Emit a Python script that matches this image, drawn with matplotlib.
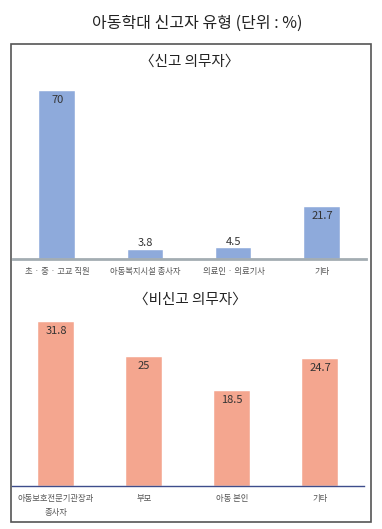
import matplotlib
matplotlib.use("Agg")
import matplotlib.pyplot as plt
from matplotlib.patches import Rectangle

plt.rcParams['font.family'] = ['Noto Sans CJK KR', 'DejaVu Sans']

# data
title = "아동학대 신고자 유형 (단위 : %)"
top_title = "〈신고 의무자〉"
top_labels = ["초 · 중 · 고교 직원", "아동복지시설 종사자", "의료인 · 의료기사", "기타"]
top_values = [70, 3.8, 4.5, 21.7]
bot_title = "〈비신고 의무자〉"
bot_labels = ["아동보호전문기관장과\n종사자", "부모", "아동 본인", "기타"]
bot_values = [31.8, 25, 18.5, 24.7]

W, H = 382, 529
fig = plt.figure(figsize=(W / 100, H / 100), dpi=100)


def box(x0, y0, x1, y1):
    # pixel coords (top-left origin) -> figure fraction
    return [x0 / W, 1 - y1 / H, (x1 - x0) / W, (y1 - y0) / H]


fig.text(197 / W, 1 - 23 / H, title, ha="center", va="center", fontsize=11.5, color="#222222")
fig.patches.append(Rectangle((11 / W, 1 - 522 / H), 360 / W, 478 / H, transform=fig.transFigure,
                             fill=False, edgecolor="#555555", lw=1.2))


def panel(rect, labels, values, color, ylim, line_color, line_w, sub, sub_y):
    ax = fig.add_axes(rect)
    xs = range(len(values))
    bars = ax.bar(xs, values, width=0.4, color=color, edgecolor="white", lw=0.3)
    for b, v in zip(bars, values):
        # short bars can't hold their label, put it just above
        inside = v / ylim > 0.15
        ax.annotate(f"{v:g}", (b.get_x() + b.get_width() / 2, v),
                    xytext=(0, -3 if inside else 1), textcoords="offset points",
                    ha="center", va="top" if inside else "bottom",
                    fontsize=8, color="#333333")
    ax.set_xlim(-0.5, 3.5)
    ax.set_ylim(0, ylim)
    ax.set_xticks(list(xs))
    ax.set_xticklabels(labels, fontsize=6, color="#555555", linespacing=1.6)
    ax.tick_params(axis="x", length=0, pad=6)
    ax.set_yticks([])
    for s in ["top", "left", "right"]:
        ax.spines[s].set_visible(False)
    ax.spines["bottom"].set_color(line_color)
    ax.spines["bottom"].set_linewidth(line_w)
    ax.patch.set_alpha(0)
    fig.text(190 / W, 1 - sub_y / H, sub, ha="center", va="center", fontsize=10.5,
             color="#222222")
    return ax


panel(box(13, 85, 366, 259), top_labels, top_values, "#8eaadb", 70 * 174 / 168,
      "#a3adb2", 2.0, top_title, 62)
panel(box(12, 316, 364, 486), bot_labels, bot_values, "#f4a68f", 170 / 5.16,
      "#3e4d8c", 1.0, bot_title, 300)

fig.savefig("out.png", dpi=100)
